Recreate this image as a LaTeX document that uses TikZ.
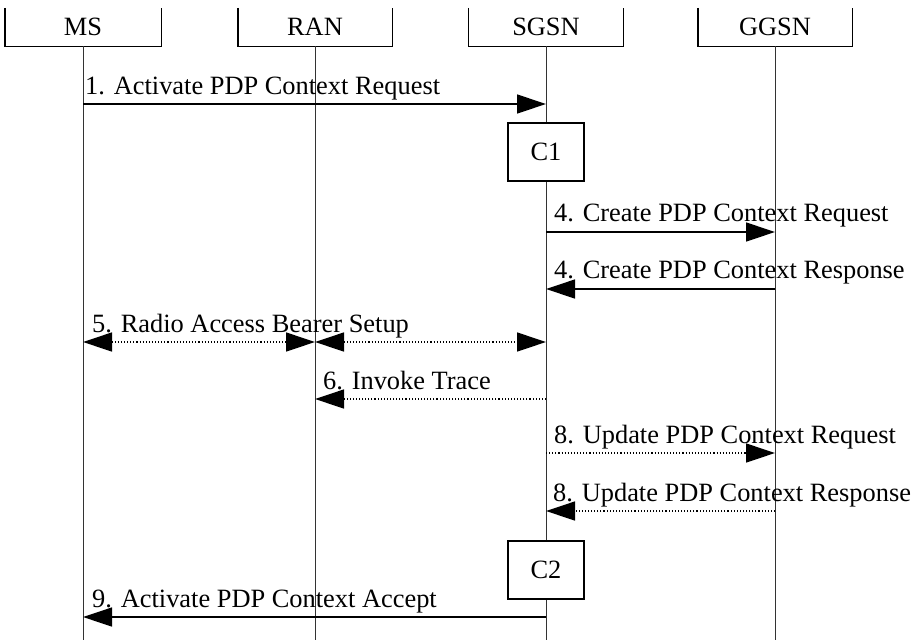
\documentclass[tikz,border=0pt]{standalone}
\usepackage{fontspec}
\setmainfont{Liberation Serif}
\usetikzlibrary{arrows.meta}
\begin{document}
\begin{tikzpicture}[x=1pt,y=-1pt,
    entity/.style={minimum height=38pt,inner sep=0pt,font=\fontsize{26.4}{30}\selectfont},
    lifeline/.style={black!80,line width=0.9pt},
    proc/.style={draw,fill=white,line width=1.4pt,minimum width=76pt,minimum height=58pt,inner sep=0pt,font=\fontsize{26.4}{30}\selectfont},
    msg/.style={line width=1.3pt,-{Triangle[length=29pt,width=19pt]}},
    dotmsg/.style={msg,dash pattern=on 1.1pt off 2pt},
    lbl/.style={inner sep=0pt,anchor=base west,font=\fontsize{26.4}{30}\selectfont}]
    \useasboundingbox (0,0) rectangle (914,640);
    \node[entity,minimum width=156pt] (ms) at (83,27) {MS};
    \node[entity,minimum width=154pt] (ran) at (315,27) {RAN};
    \node[entity,minimum width=155pt] (sgsn) at (546,27) {SGSN};
    \node[entity,minimum width=154pt] (ggsn) at (775,27) {GGSN};
    \foreach \e in {ms,ran,sgsn,ggsn} {
        \draw[line width=1.4pt] (\e.north west) |- (\e.south east) -- (\e.north east);
        \draw[lifeline] (\e.south) -- (\e |- 0,640);
    }
    \coordinate (r1) at (0,104);
    \coordinate (r4a) at (0,232);
    \coordinate (r4b) at (0,289);
    \coordinate (r5) at (0,342);
    \coordinate (r6) at (0,399);
    \coordinate (r8a) at (0,453);
    \coordinate (r8b) at (0,511);
    \coordinate (r9) at (0,617);
    \node[proc] (c1) at (546,152) {C1};
    \node[proc] (c2) at (546,570) {C2};
    \draw[msg] (ms |- r1) -- (sgsn |- r1);
    \node[lbl] (t1) at ([xshift=2pt,yshift=10pt]ms |- r1) {1. Activate PDP Context Request};
    \draw[msg] (sgsn |- r4a) -- (ggsn |- r4a);
    \node[lbl] (t4a) at ([xshift=8pt,yshift=11pt]sgsn |- r4a) {4. Create PDP Context Request};
    \draw[msg] (ggsn |- r4b) -- (sgsn |- r4b);
    \node[lbl] (t4b) at ([xshift=8pt,yshift=11pt]sgsn |- r4b) {4. Create PDP Context Response};
    \draw[dotmsg,{Triangle[length=29pt,width=19pt]}-{Triangle[length=29pt,width=19pt]}] (ms |- r5) -- (ran |- r5);
    \draw[dotmsg,{Triangle[length=29pt,width=19pt]}-{Triangle[length=29pt,width=19pt]}] (ran |- r5) -- (sgsn |- r5);
    \node[lbl] (t5) at ([xshift=9pt,yshift=10pt]ms |- r5) {5. Radio Access Bearer Setup};
    \draw[dotmsg] (sgsn |- r6) -- (ran |- r6);
    \node[lbl] (t6) at ([xshift=8pt,yshift=10pt]ran |- r6) {6. Invoke Trace};
    \draw[dotmsg] (sgsn |- r8a) -- (ggsn |- r8a);
    \node[lbl] (t8a) at ([xshift=8pt,yshift=10pt]sgsn |- r8a) {8. Update PDP Context Request};
    \draw[dotmsg] (ggsn |- r8b) -- (sgsn |- r8b);
    \node[lbl] (t8b) at ([xshift=7pt,yshift=10pt]sgsn |- r8b) {8. Update PDP Context Response};
    \draw[msg] (sgsn |- r9) -- (ms |- r9);
    \node[lbl] (t9) at ([xshift=9pt,yshift=10pt]ms |- r9) {9. Activate PDP Context Accept};
\end{tikzpicture}
\end{document}
